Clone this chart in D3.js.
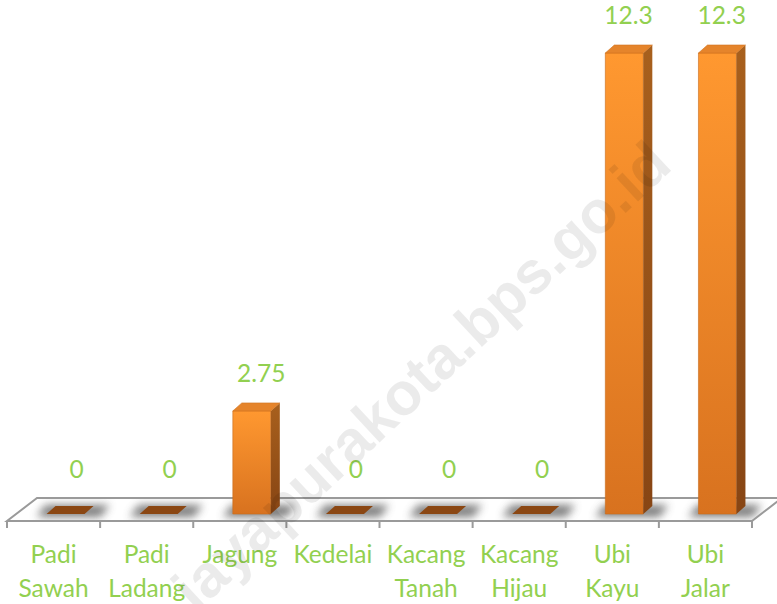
<!DOCTYPE html>
<html>
<head>
<meta charset="utf-8">
<script src="https://cdn.jsdelivr.net/npm/d3@7"></script>
<style>
  body { margin: 0; background: #ffffff; }
  svg { display: block; }
</style>
</head>
<body>
<script>
window.onload = function() {
  loadMap();
}

var categories = ["Padi Sawah", "Padi Ladang", "Jagung", "Kedelai", "Kacang Tanah", "Kacang Hijau", "Ubi Kayu", "Ubi Jalar"];
var values = [0, 0, 2.75, 0, 0, 0, 12.3, 12.3];
var watermark = "jayapurakota.bps.go.id";

var width = 777,
  height = 604;

var scaleX = d3.scaleBand()
                    .domain(categories)
                    .range([7, 752]);

var scaleY = d3.scaleLinear()
                    .domain([0, 12.3])
                    .range([514, 53]);

// oblique offsets for the fake 3d look
var floorDx = 30, floorDy = -23;
var barDx = 9, barDy = -8;
var barW = 38, barShift = 12;
var green = "#92d050";

function barLeft(c) {
  return scaleX(c) + scaleX.bandwidth() / 2 - barW / 2 + barShift;
}

function poly(pts) {
  return "M" + pts.map(function(p) { return p.join(","); }).join("L") + "Z";
}

function drawDefs (svgCanvas) {
  var defs = svgCanvas.append("defs");

  var front = defs.append("linearGradient").attr("id", "front")
                  .attr("x1", 0).attr("y1", 0).attr("x2", 0).attr("y2", 1);
  front.append("stop").attr("offset", "0%").attr("stop-color", "#ff9830");
  front.append("stop").attr("offset", "100%").attr("stop-color", "#d8721f");

  var side = defs.append("linearGradient").attr("id", "side")
                  .attr("x1", 0).attr("y1", 0).attr("x2", 0).attr("y2", 1);
  side.append("stop").attr("offset", "0%").attr("stop-color", "#a8601d");
  side.append("stop").attr("offset", "100%").attr("stop-color", "#874514");

  defs.append("filter").attr("id", "blur")
      .attr("x", "-50%").attr("y", "-100%").attr("width", "200%").attr("height", "300%")
      .append("feGaussianBlur").attr("stdDeviation", 4);

  var y0 = scaleY(0) + 7;
  defs.append("clipPath").attr("id", "floorclip")
      .append("path")
      .attr("d", poly([[7, y0], [752, y0], [752 + floorDx, y0 + floorDy], [7 + floorDx, y0 + floorDy]]));
}

function drawFloor (svgCanvas) {
  var y0 = scaleY(0) + 7;
  var x0 = scaleX.range()[0], x1 = scaleX.range()[1];

  svgCanvas.append("path")
           .attr("d", poly([[x0, y0], [x1, y0], [x1 + floorDx, y0 + floorDy], [x0 + floorDx, y0 + floorDy]]))
           .style("fill", "#ffffff");

  // soft shadows round each bar foot
  svgCanvas.append("g")
           .attr("clip-path", "url(#floorclip)")
           .selectAll("path")
           .data(categories)
           .enter()
           .append("path")
           .attr("d", function(c) {
              var l = barLeft(c) - 10, r = barLeft(c) + barW + 16;
              var b = scaleY(0) + 3;
              return poly([[l, b], [r, b], [r + barDx, b + barDy - 4], [l + barDx, b + barDy - 4]]);
           })
           .attr("filter", "url(#blur)")
           .style("fill", "#666666")
           .style("opacity", 0.85);

  svgCanvas.append("path")
           .attr("d", poly([[x0, y0], [x1, y0], [x1 + floorDx, y0 + floorDy], [x0 + floorDx, y0 + floorDy]]))
           .style("fill", "none")
           .style("stroke", "#9a9a9a")
           .style("stroke-width", 2);

  var ticks = scaleX.domain().map(function(c) { return scaleX(c); }).concat([x1]);
  svgCanvas.selectAll("line.tick")
           .data(ticks)
           .enter()
           .append("line")
           .attr("class", "tick")
           .attr("x1", function(d) { return d; })
           .attr("x2", function(d) { return d; })
           .attr("y1", y0)
           .attr("y2", y0 + 7)
           .style("stroke", "#9a9a9a")
           .style("stroke-width", 2);
}

function drawBars (svgCanvas) {
  var base = scaleY(0);
  var bars = svgCanvas.selectAll("g.bar")
                      .data(values)
                      .enter()
                      .append("g")
                      .attr("class", "bar");

  bars.each(function(d, i) {
      var g = d3.select(this);
      var l = barLeft(categories[i]), r = l + barW, t = scaleY(d);
      if (d > 0) {
        g.append("path")
         .attr("d", poly([[l, t], [r, t], [r, base], [l, base]]))
         .style("fill", "url(#front)")
         .style("stroke", "#c96b1c")
         .style("stroke-width", 0.6);
        g.append("path")
         .attr("d", poly([[r, t], [r + barDx, t + barDy], [r + barDx, base + barDy], [r, base]]))
         .style("fill", "url(#side)");
      }
      g.append("path")
       .attr("d", poly([[l, t], [r, t], [r + barDx, t + barDy], [l + barDx, t + barDy]]))
       .style("fill", d > 0 ? "#e5842b" : "#8b4713")
       .style("stroke", d > 0 ? "#d07420" : "none")
       .style("stroke-width", 0.6);
  });
}

function drawLabels (svgCanvas) {
  svgCanvas.selectAll("text.value")
           .data(values)
           .enter()
           .append("text")
           .attr("class", "value")
           .attr("x", function(d, i) {
              return scaleX(categories[i]) + scaleX.bandwidth() / 2 + 23 - 0.55 * d;
           })
           .attr("y", function(d) { return scaleY(d) - 29 - (d === 0 ? 7 : 0); })
           .attr("text-anchor", "middle")
           .style("font-family", "Lato, 'Open Sans', sans-serif")
           .style("font-size", "24.5px")
           .style("fill", green)
           .text(function(d) { return String(d); });

  var cats = svgCanvas.selectAll("text.cat")
                      .data(categories)
                      .enter()
                      .append("text")
                      .attr("class", "cat")
                      .attr("text-anchor", "middle")
                      .style("font-family", "Lato, 'Open Sans', sans-serif")
                      .style("font-size", "24.5px")
                      .style("fill", green);

  cats.selectAll("tspan")
      .data(function(c) { return c.split(" ").map(function(w) { return [c, w]; }); })
      .enter()
      .append("tspan")
      .attr("x", function(d) { return scaleX(d[0]) + scaleX.bandwidth() / 2; })
      .attr("y", function(d, j) { return 563 + j * 34; })
      .text(function(d) { return d[1]; });
}

function drawWatermark (svgCanvas) {
  svgCanvas.append("text")
           .attr("transform", "translate(674,168) rotate(-43)")
           .attr("text-anchor", "end")
           .style("font-family", "'Liberation Sans', Arial, sans-serif")
           .style("font-weight", "bold")
           .style("font-size", "60px")
           .style("fill", "#000000")
           .style("opacity", 0.075)
           .text(watermark);
}

function loadMap() {
    var body = d3.select("body");

    var svgCanvas = body.append("svg")
                        .attr("width", width)
                        .attr("height", height);

    drawDefs(svgCanvas);
    drawFloor(svgCanvas);
    drawBars(svgCanvas);
    drawLabels(svgCanvas);
    drawWatermark(svgCanvas);
}
</script>
</body>
</html>
